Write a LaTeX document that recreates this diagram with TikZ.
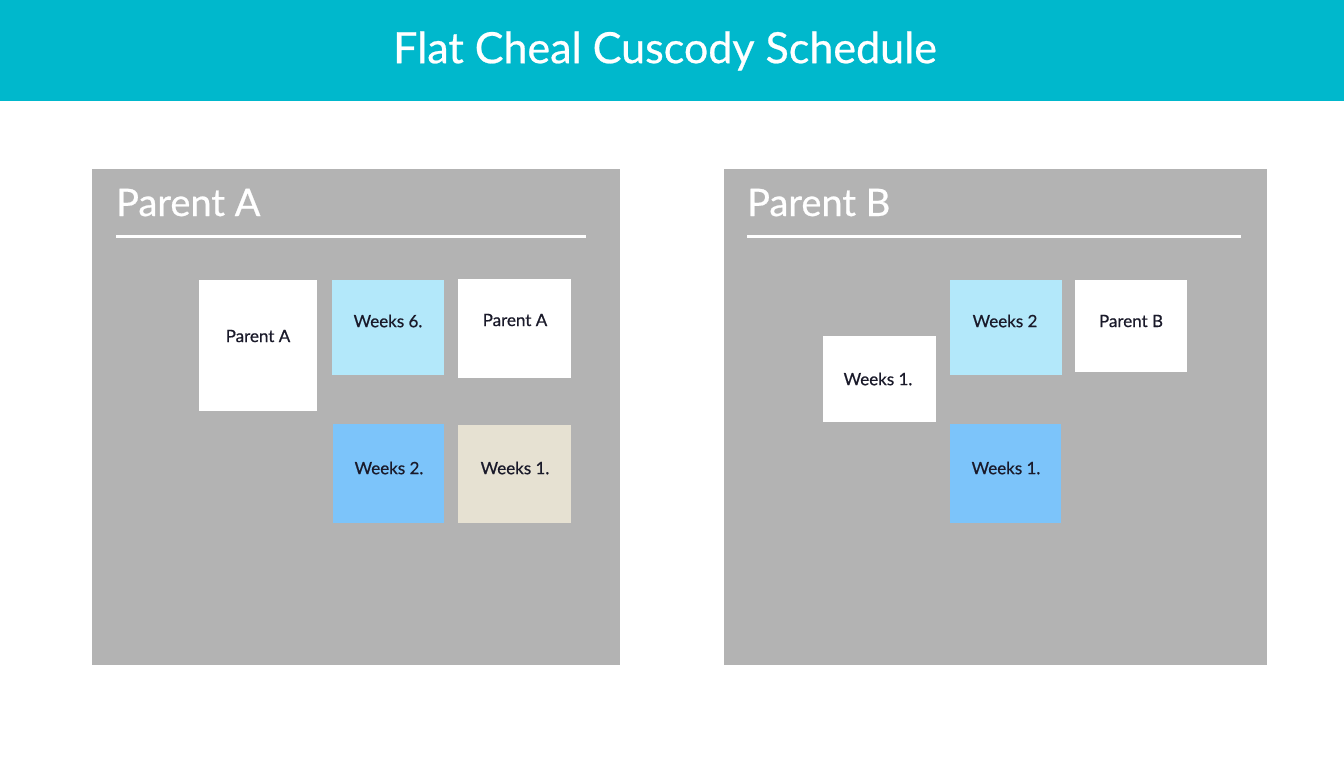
\documentclass[tikz,border=0pt]{standalone}
\usepackage{fontspec}
\setmainfont{Lato}[FakeBold=0.6,UprightFeatures={FakeBold=0.6}]
\definecolor{headbg}{HTML}{00B8CC}
\definecolor{panelbg}{HTML}{B3B3B3}
\definecolor{lightblue}{HTML}{B3E8FA}
\definecolor{midblue}{HTML}{7CC4FA}
\definecolor{beige}{HTML}{E6E1D2}
\definecolor{cardtext}{HTML}{1A1A2A}
\tikzset{
  panel/.style={fill=panelbg, draw=none, inner sep=0pt, anchor=north west},
  card/.style={draw=none, inner sep=0pt, anchor=north west},
  cardlabel/.style={font=\fontsize{17}{20}\selectfont, text=cardtext, inner sep=0pt},
  paneltitle/.style={font=\fontsize{38}{42}\selectfont, text=white, anchor=base west, inner sep=0pt},
  rule/.style={draw=white, line width=3pt}
}
\begin{document}
\begin{tikzpicture}[x=1pt,y=-1pt]
\useasboundingbox (0,0) rectangle (1344,768);
\fill[white] (0,0) rectangle (1344,768);
% header
\node[fill=headbg, inner sep=0pt, anchor=north west, minimum width=1344pt, minimum height=101pt] (header) at (0,0) {};
\node[font=\fontsize{43}{47}\selectfont, text=white, inner sep=0pt] (title) at (665,51) {Flat Cheal Cuscody Schedule};

% panel A
\node[panel, minimum width=528pt, minimum height=496pt] (panelA) at (92,169) {};
\node[paneltitle] (titleA) at (116,216) {Parent A};
\coordinate (ruleAl) at (116,236);
\coordinate (ruleAr) at (586,236);
\draw[rule] (ruleAl) -- (ruleAr);

\node[card, fill=white, minimum width=118pt, minimum height=131pt] (a1) at (199,280) {};
\node[cardlabel] (a1t) at (258,336) {Parent A};
\node[card, fill=lightblue, minimum width=112pt, minimum height=95pt] (a2) at (332,280) {};
\node[cardlabel] (a2t) at (388,321) {Weeks 6.};
\node[card, fill=white, minimum width=113pt, minimum height=99pt] (a3) at (458,279) {};
\node[cardlabel] (a3t) at (515,320) {Parent A};
\node[card, fill=midblue, minimum width=111pt, minimum height=99pt] (a4) at (333,424) {};
\node[cardlabel] (a4t) at (389,468) {Weeks 2.};
\node[card, fill=beige, minimum width=113pt, minimum height=98pt] (a5) at (458,425) {};
\node[cardlabel] (a5t) at (515,468) {Weeks 1.};

% panel B
\node[panel, minimum width=543pt, minimum height=496pt] (panelB) at (724,169) {};
\node[paneltitle] (titleB) at (747,216) {Parent B};
\coordinate (ruleBl) at (747,236);
\coordinate (ruleBr) at (1241,236);
\draw[rule] (ruleBl) -- (ruleBr);

\node[card, fill=white, minimum width=113pt, minimum height=86pt] (b1) at (823,336) {};
\node[cardlabel] (b1t) at (878,379) {Weeks 1.};
\node[card, fill=lightblue, minimum width=112pt, minimum height=95pt] (b2) at (950,280) {};
\node[cardlabel] (b2t) at (1005,321) {Weeks 2};
\node[card, fill=white, minimum width=112pt, minimum height=92pt] (b3) at (1075,280) {};
\node[cardlabel] (b3t) at (1131,321) {Parent B};
\node[card, fill=midblue, minimum width=111pt, minimum height=99pt] (b4) at (950,424) {};
\node[cardlabel] (b4t) at (1006,468) {Weeks 1.};
\end{tikzpicture}
\end{document}
